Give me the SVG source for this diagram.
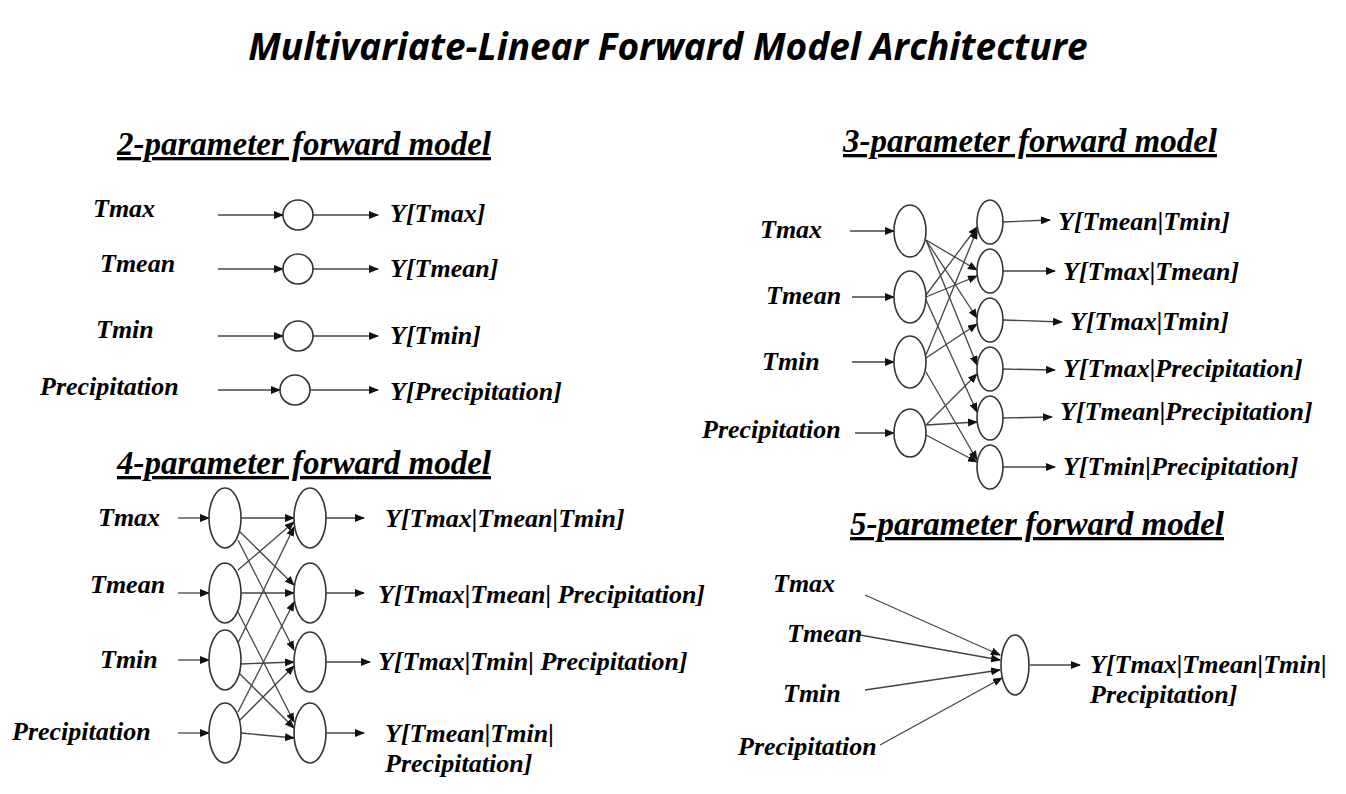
<svg xmlns="http://www.w3.org/2000/svg" width="1346" height="794" viewBox="0 0 1346 794">
<style>
.t{font-family:"Liberation Serif",serif;font-weight:bold;font-style:italic;font-size:26px;fill:#000}
.h{font-family:"Liberation Serif",serif;font-weight:bold;font-style:italic;font-size:33px;text-decoration:underline;fill:#000}
.n{fill:#fff;stroke:#333;stroke-width:1.6}
.c line{stroke:#444;stroke-width:1.3;marker-end:url(#a)}
</style>
<defs><marker id="a" markerWidth="10" markerHeight="8" refX="9" refY="4" orient="auto" markerUnits="userSpaceOnUse"><path d="M0,0L10,4L0,8z" fill="#111"/></marker></defs>
<rect width="1346" height="794" fill="#fff"/>
<text x="668" y="60" text-anchor="middle" style="font-family:'Open Sans',sans-serif;font-weight:bold;font-style:italic;font-size:37px">Multivariate-Linear Forward Model Architecture</text>
<text class="h" x="117" y="155">2-parameter forward model</text>
<text class="h" x="843" y="152">3-parameter forward model</text>
<text class="h" x="117" y="474">4-parameter forward model</text>
<text class="h" x="850" y="535">5-parameter forward model</text>
<g class="c">
<line x1="218" y1="215" x2="283" y2="215"/><line x1="313" y1="215" x2="378" y2="215"/>
<line x1="218" y1="269" x2="283" y2="269"/><line x1="313" y1="269" x2="378" y2="269"/>
<line x1="218" y1="336" x2="283" y2="336"/><line x1="313" y1="336" x2="378" y2="336"/>
<line x1="218" y1="390" x2="280" y2="390"/><line x1="310" y1="390" x2="378" y2="390"/>
<line x1="850" y1="231" x2="894" y2="231"/><line x1="852" y1="297" x2="894" y2="297"/><line x1="852" y1="362" x2="894" y2="362"/><line x1="855" y1="433" x2="894" y2="433"/>
<line x1="926" y1="240" x2="977" y2="270"/><line x1="926" y1="240" x2="977" y2="318"/><line x1="926" y1="240" x2="977" y2="365"/>
<line x1="926" y1="295" x2="977" y2="227"/><line x1="926" y1="297" x2="977" y2="276"/><line x1="926" y1="300" x2="977" y2="412"/>
<line x1="926" y1="355" x2="977" y2="230"/><line x1="926" y1="358" x2="977" y2="324"/><line x1="926" y1="372" x2="977" y2="460"/>
<line x1="926" y1="425" x2="977" y2="374"/><line x1="926" y1="425" x2="977" y2="422"/><line x1="926" y1="435" x2="977" y2="462"/>
<line x1="1003" y1="222" x2="1050" y2="220"/><line x1="1003" y1="271" x2="1055" y2="271"/><line x1="1003" y1="320" x2="1062" y2="322"/><line x1="1003" y1="369" x2="1055" y2="370"/><line x1="1003" y1="418" x2="1052" y2="417"/><line x1="1003" y1="467" x2="1055" y2="467"/>
<line x1="178" y1="518" x2="209" y2="518"/><line x1="178" y1="593" x2="209" y2="593"/><line x1="178" y1="660" x2="209" y2="660"/><line x1="178" y1="733" x2="209" y2="733"/>
<line x1="241" y1="518" x2="294" y2="518"/><line x1="238" y1="530" x2="294" y2="585"/><line x1="238" y1="540" x2="294" y2="650"/>
<line x1="238" y1="570" x2="294" y2="522"/><line x1="241" y1="593" x2="294" y2="593"/><line x1="238" y1="612" x2="294" y2="722"/>
<line x1="238" y1="643" x2="294" y2="527"/><line x1="241" y1="664" x2="294" y2="662"/><line x1="238" y1="672" x2="294" y2="728"/>
<line x1="238" y1="712" x2="294" y2="602"/><line x1="238" y1="722" x2="294" y2="666"/><line x1="241" y1="733" x2="294" y2="738"/>
<line x1="326" y1="518" x2="364" y2="518"/><line x1="326" y1="593" x2="364" y2="593"/><line x1="326" y1="662" x2="370" y2="662"/><line x1="326" y1="733" x2="364" y2="733"/>
<line x1="865" y1="595" x2="1000" y2="655"/><line x1="860" y1="635" x2="1000" y2="660"/><line x1="865" y1="690" x2="1000" y2="670"/><line x1="880" y1="745" x2="1002" y2="678"/>
<line x1="1030" y1="665" x2="1080" y2="665"/>
</g>
<g id="n2a"><circle class="n" cx="298" cy="215" r="15"/></g>
<g id="n2b"><circle class="n" cx="298" cy="269" r="15"/></g>
<g id="n2c"><circle class="n" cx="298" cy="336" r="15"/></g>
<g id="n2d"><circle class="n" cx="295" cy="390" r="15"/></g>
<g id="n3i"><ellipse class="n" cx="910" cy="231" rx="16" ry="26"/><ellipse class="n" cx="910" cy="297" rx="16" ry="26"/><ellipse class="n" cx="910" cy="362" rx="16" ry="26"/><ellipse class="n" cx="910" cy="433" rx="16" ry="24"/></g>
<g id="n3o"><ellipse class="n" cx="990" cy="222" rx="13" ry="22"/><ellipse class="n" cx="990" cy="271" rx="13" ry="22"/><ellipse class="n" cx="990" cy="320" rx="13" ry="22"/><ellipse class="n" cx="990" cy="369" rx="13" ry="22"/><ellipse class="n" cx="990" cy="418" rx="13" ry="22"/><ellipse class="n" cx="990" cy="467" rx="13" ry="22"/></g>
<g id="n4i"><ellipse class="n" cx="225" cy="518" rx="16" ry="30"/><ellipse class="n" cx="225" cy="593" rx="16" ry="30"/><ellipse class="n" cx="225" cy="660" rx="16" ry="30"/><ellipse class="n" cx="225" cy="733" rx="16" ry="30"/></g>
<g id="n4o"><ellipse class="n" cx="310" cy="518" rx="16" ry="30"/><ellipse class="n" cx="310" cy="593" rx="16" ry="30"/><ellipse class="n" cx="310" cy="662" rx="16" ry="30"/><ellipse class="n" cx="310" cy="733" rx="16" ry="30"/></g>
<g id="n5"><ellipse class="n" cx="1015" cy="665" rx="14" ry="30"/></g>
<g id="labels">
<text class="t" x="93" y="217">Tmax</text><text class="t" x="100" y="272">Tmean</text><text class="t" x="96" y="338">Tmin</text><text class="t" x="40" y="395">Precipitation</text>
<text class="t" x="390" y="222">Y[Tmax]</text><text class="t" x="390" y="277">Y[Tmean]</text><text class="t" x="390" y="344">Y[Tmin]</text><text class="t" x="390" y="400">Y[Precipitation]</text>
<text class="t" x="760" y="238">Tmax</text><text class="t" x="766" y="304">Tmean</text><text class="t" x="762" y="370">Tmin</text><text class="t" x="702" y="438">Precipitation</text>
<text class="t" x="1058" y="230">Y[Tmean|Tmin]</text><text class="t" x="1063" y="280">Y[Tmax|Tmean]</text><text class="t" x="1070" y="330">Y[Tmax|Tmin]</text><text class="t" x="1063" y="377">Y[Tmax|Precipitation]</text><text class="t" x="1060" y="420">Y[Tmean|Precipitation]</text><text class="t" x="1063" y="475">Y[Tmin|Precipitation]</text>
<text class="t" x="98" y="526">Tmax</text><text class="t" x="90" y="593">Tmean</text><text class="t" x="100" y="668">Tmin</text><text class="t" x="12" y="740">Precipitation</text>
<text class="t" x="385" y="527">Y[Tmax|Tmean|Tmin]</text><text class="t" x="378" y="603">Y[Tmax|Tmean| Precipitation]</text><text class="t" x="378" y="670">Y[Tmax|Tmin| Precipitation]</text><text class="t" x="385" y="742">Y[Tmean|Tmin|</text><text class="t" x="385" y="772">Precipitation]</text>
<text class="t" x="773" y="592">Tmax</text><text class="t" x="787" y="642">Tmean</text><text class="t" x="783" y="702">Tmin</text><text class="t" x="738" y="755">Precipitation</text>
<text class="t" x="1090" y="673">Y[Tmax|Tmean|Tmin|</text><text class="t" x="1090" y="703">Precipitation]</text>
</g>
</svg>
